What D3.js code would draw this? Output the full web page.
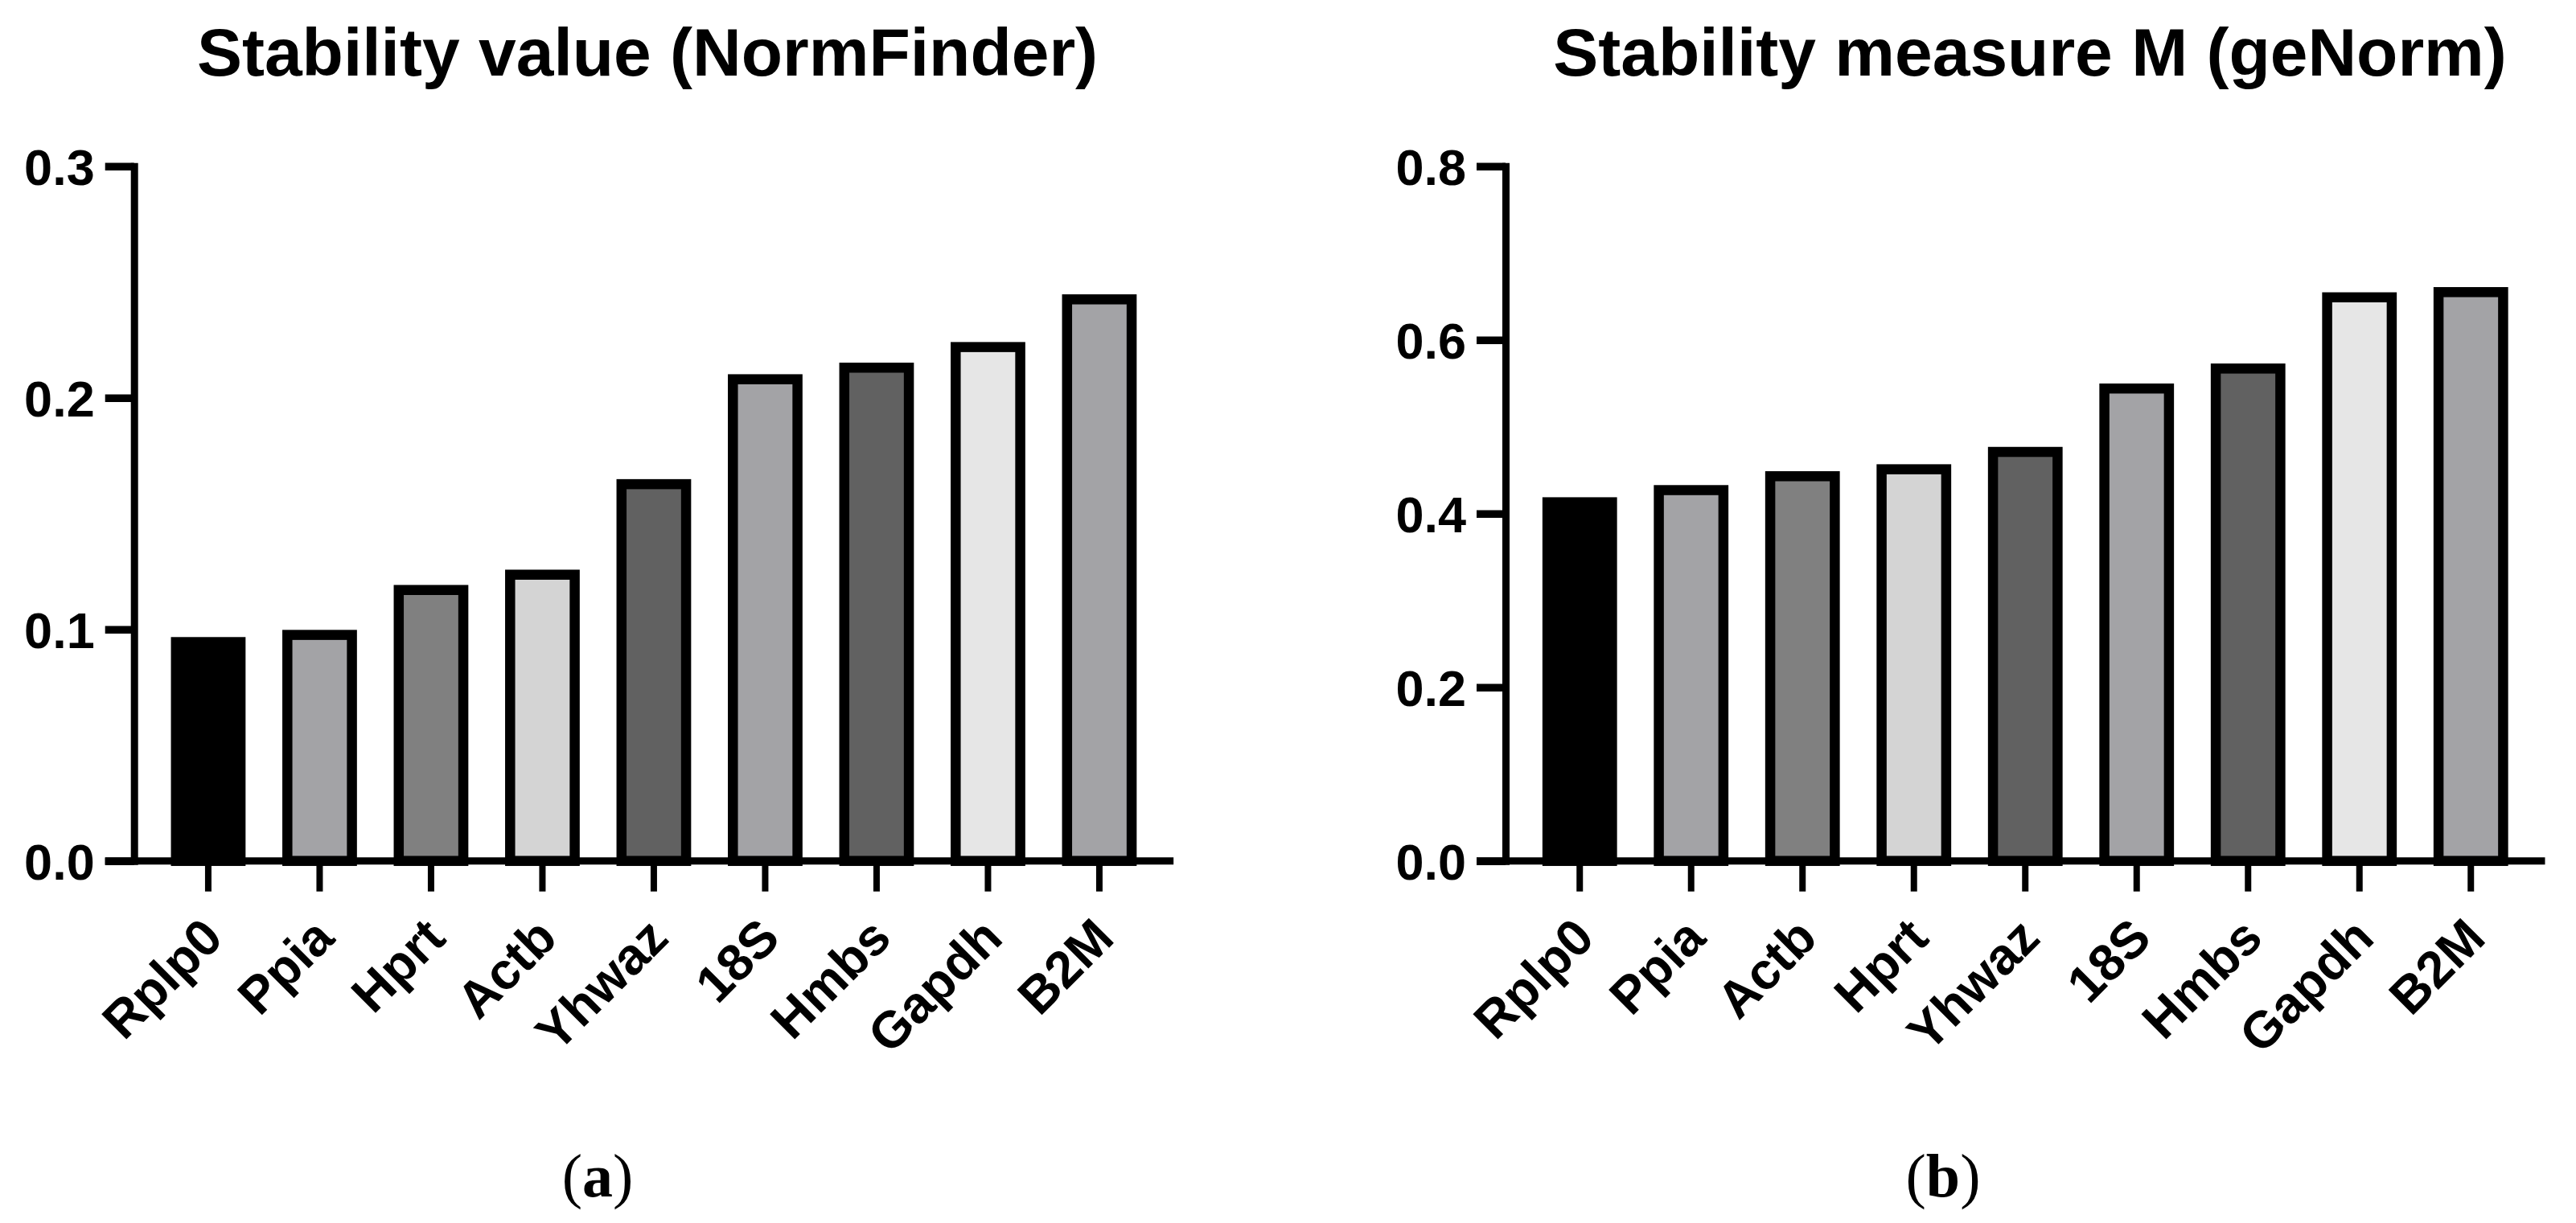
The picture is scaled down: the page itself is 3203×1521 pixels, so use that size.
<!DOCTYPE html>
<html><head><meta charset="utf-8">
<script src="https://cdn.jsdelivr.net/npm/d3@7"></script>
<style>html,body{margin:0;padding:0;background:#fff;}svg{display:block;}</style>
</head><body>
<svg id="c" width="3203" height="1521"></svg>
<script>
const catsA = ["Rplp0","Ppia","Hprt","Actb","Yhwaz","18S","Hmbs","Gapdh","B2M"];
const valsA = [0.0945,0.0976,0.117,0.1236,0.1627,0.208,0.213,0.2219,0.2425];
const ticksA = [0, 0.1, 0.2, 0.3];
const titleA = "Stability value (NormFinder)";

const catsB = ["Rplp0","Ppia","Actb","Hprt","Yhwaz","18S","Hmbs","Gapdh","B2M"];
const valsB = [0.413,0.427,0.443,0.451,0.471,0.544,0.567,0.649,0.655];
const ticksB = [0, 0.2, 0.4, 0.6, 0.8];
const titleB = "Stability measure M (geNorm)";

const fills = ["#000000","#a3a3a6","#808080","#d4d4d4","#616161","#a3a3a6","#616161","#e6e6e6","#a3a3a6"];

const svg = d3.select("#c");
const FONT = "'Liberation Sans', Arial, Helvetica, sans-serif";

function panel(opt){
  const g = svg.append("g");
  const x0 = opt.axisX, yTop = 206.7, yBot = 1070.7;
  const step = 138.5;
  const x = d3.scaleBand().domain(opt.cats)
     .range([x0, x0 + step*(opt.cats.length - 0.33 + 2*0.331)])
     .paddingInner(0.33).paddingOuter(0.331);
  const y = d3.scaleLinear().domain([0, opt.max]).range([yBot, yTop]);
  const sw = 12.5;

  // bars
  g.selectAll("rect.bar").data(opt.vals).enter().append("rect")
    .attr("class","bar")
    .attr("x",(d,i)=> x(opt.cats[i]) + sw/2)
    .attr("width", x.bandwidth() - sw)
    .attr("y", d => y(d))
    .attr("height", d => y(0) - y(d))
    .attr("fill",(d,i)=>fills[i])
    .attr("stroke","#000").attr("stroke-width", sw);

  // y axis
  const ya = g.append("g").attr("transform",`translate(${x0},0)`)
    .call(d3.axisLeft(y).tickValues(opt.ticks).tickFormat(d3.format(".1f")).tickSize(36).tickSizeOuter(0).tickPadding(13));
  ya.select(".domain").attr("stroke","#000").attr("stroke-width",9).attr("stroke-linecap","square");
  ya.selectAll(".tick line").attr("stroke","#000").attr("stroke-width",9.5);
  ya.selectAll(".tick text").attr("font-family",FONT).attr("font-weight","bold")
    .attr("font-size",63).attr("fill","#000").attr("dy","0.36em");

  // x axis
  const xa = g.append("g").attr("transform",`translate(0,${yBot})`)
    .call(d3.axisBottom(x).tickSize(0).tickSizeOuter(0).tickFormat(""));
  xa.select(".domain").attr("stroke","#000").attr("stroke-width",9)
    .attr("d", `M${x0-36},0H${x.range()[1]}`);
  xa.selectAll(".tick line").attr("stroke","#000").attr("stroke-width",8)
    .attr("y1",4.5).attr("y2",38);

  // x labels
  g.selectAll("text.xl").data(opt.cats).enter().append("text")
    .attr("class","xl")
    .attr("transform", d => `translate(${x(d)+x.bandwidth()/2+21},${yBot+99}) rotate(-45)`)
    .attr("text-anchor","end")
    .attr("font-family",FONT).attr("font-weight","bold").attr("font-size",64).attr("fill","#000")
    .text(d=>d);

  // title
  g.append("text").attr("x",opt.titleX).attr("y",94).attr("text-anchor","middle")
    .attr("font-family",FONT).attr("font-weight","bold").attr("font-size",84).attr("fill","#000")
    .text(opt.title);

  // panel letter
  const t = g.append("text").attr("x",opt.letterX).attr("y",1488).attr("text-anchor","middle")
    .attr("font-family","'Liberation Serif','Times New Roman',serif").attr("font-size",76).attr("fill","#000");
  t.append("tspan").text("(");
  t.append("tspan").attr("font-weight","bold").text(opt.letter);
  t.append("tspan").text(")");
}

panel({cats:catsA, vals:valsA, ticks:ticksA, max:0.3, axisX:166.7, title:titleA, titleX:805, letter:"a", letterX:743});
panel({cats:catsB, vals:valsB, ticks:ticksB, max:0.8, axisX:1872, title:titleB, titleX:2524, letter:"b", letterX:2416});
</script>
</body></html>
